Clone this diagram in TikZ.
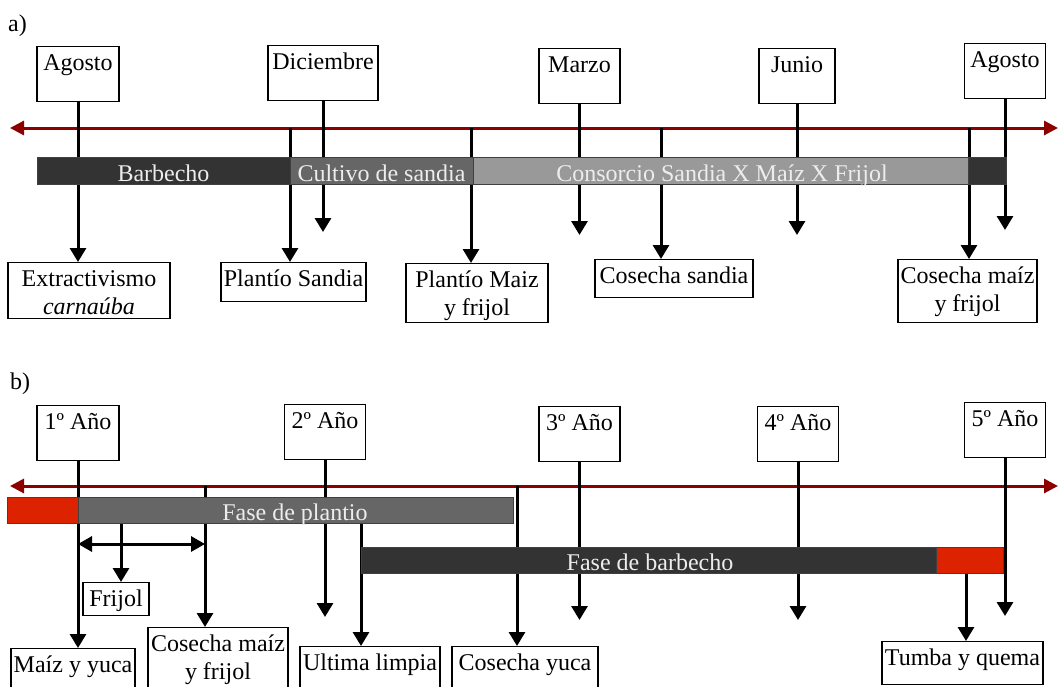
\documentclass[tikz,border=0pt]{standalone}
\usepackage{fontspec}
\setmainfont{Liberation Serif}
\usetikzlibrary{arrows.meta}

\definecolor{rojoeje}{RGB}{140,0,0}
\definecolor{rojobarra}{RGB}{221,34,0}
\definecolor{grisosc}{RGB}{51,51,51}
\definecolor{grismed}{RGB}{102,102,102}
\definecolor{grisclaro}{RGB}{153,153,153}

\tikzset{
  letra/.style={font=\fontsize{24}{28}\selectfont},
  caja/.style={letra, draw, line width=1.2pt, fill=white, inner xsep=2pt,
    inner ysep=4pt, text height=20pt, anchor=north, align=center},
  caja2/.style={caja, text height=48pt},
  eje/.style={draw=rojoeje, line width=3pt,
    {Triangle[width=14pt,length=14pt]}-{Triangle[width=14pt,length=14pt]}},
  flecha/.style={line width=3pt, -{Triangle[width=16pt,length=14pt]}},
  doble/.style={line width=3pt,
    {Triangle[width=15pt,length=14pt]}-{Triangle[width=15pt,length=14pt]}},
  barra/.style={draw=black!75, line width=1pt},
  textobarra/.style={letra, text=white!93!black, anchor=base, inner sep=0pt},
}

\begin{document}
\begin{tikzpicture}[x=1pt,y=-1pt]
  \useasboundingbox (0,0) rectangle (1061,686);
  \clip (0,0) rectangle (1061,686);

  % ---- a) ----
  \node[letra, anchor=base west, inner sep=0pt] (etqa) at (8,31) {a)};

  \node[caja, minimum width=82pt, text depth=27pt] (ago1) at (78,46) {Agosto};
  \node[caja, minimum width=110pt, text depth=27pt] (dic) at (323,45) {Diciembre};
  \node[caja, minimum width=81pt, text depth=27pt] (mar) at (579.5,48) {Marzo};
  \node[caja, minimum width=76pt, text depth=27pt] (jun) at (797,48) {Junio};
  \node[caja, minimum width=81pt, text depth=27pt] (ago2) at (1005,43) {Agosto};

  \node[caja2, minimum width=162pt, text depth=0pt] (ext) at (89,262) {Extractivismo\\\textit{carnaúba}};
  \node[caja, minimum width=145pt, text depth=11pt] (psan) at (293.5,262) {Plantío Sandia};
  \node[caja2, minimum width=142pt, text depth=3pt] (pmai) at (477,263) {Plantío Maiz\\y frijol};
  \node[caja, minimum width=158pt, text depth=10pt] (csan) at (674,259) {Cosecha sandia};
  \node[caja2, minimum width=139pt, text depth=7pt] (cmai) at (967.5,259) {Cosecha maíz\\y frijol};

  \coordinate (ejea1) at (10,128);
  \coordinate (ejea2) at (1058,128);
  \draw[eje] (ejea1) -- (ejea2);

  \coordinate (ta1) at (290,128);
  \coordinate (ta2) at (471,128);
  \coordinate (ta3) at (661,128);
  \coordinate (ta4) at (969,128);
  \coordinate (fdic) at (323,232);
  \coordinate (fmar) at (579.5,235);
  \coordinate (fjun) at (797,235);
  \coordinate (fago) at (1005,230);

  \draw[flecha] (ago1.south) -- (ago1.south |- ext.north);
  \draw[flecha] (ta1) -- (ta1 |- psan.north);
  \draw[flecha] (dic.south) -- (fdic);
  \draw[flecha] (ta2) -- (ta2 |- pmai.north);
  \draw[flecha] (mar.south) -- (fmar);
  \draw[flecha] (ta3) -- (ta3 |- csan.north);
  \draw[flecha] (jun.south) -- (fjun);
  \draw[flecha] (ta4) -- (ta4 |- cmai.north);
  \draw[flecha] (ago2.south) -- (fago);

  \draw[barra, fill=grisosc] (37,157) rectangle (290,184);
  \draw[barra, fill=grismed] (290,157) rectangle (473,184);
  \draw[barra, fill=grisclaro] (473,157) rectangle (968,184);
  \draw[barra, fill=grisosc] (968,157) rectangle (1006,184);
  \node[textobarra] (tbarb) at (163.5,181) {Barbecho};
  \node[textobarra] (tcult) at (381.5,181) {Cultivo de sandia};
  \node[textobarra] (tcons) at (722,181) {Consorcio Sandia X Maíz X Frijol};

  % ---- b) ----
  \node[letra, anchor=base west, inner sep=0pt] (etqb) at (10,389) {b)};

  \node[caja, minimum width=82pt, text depth=27pt] (a1) at (78,405) {1º Año};
  \node[caja, minimum width=81pt, text depth=27pt] (a2) at (325,404) {2º Año};
  \node[caja, minimum width=81pt, text depth=27pt] (a3) at (579.5,406) {3º Año};
  \node[caja, minimum width=81pt, text depth=27pt] (a4) at (798,406) {4º Año};
  \node[caja, minimum width=81pt, text depth=27pt] (a5) at (1005,402) {5º Año};

  \node[caja, minimum width=66pt, text depth=5pt] (fri) at (116,582) {Frijol};
  \node[caja, minimum width=124pt, text depth=60pt] (myy) at (73,648) {Maíz y yuca};
  \node[caja2, minimum width=140pt, text depth=40pt] (cmf) at (218,627) {Cosecha maíz\\y frijol};
  \node[caja, minimum width=140pt, text depth=60pt] (ult) at (370,646) {Ultima limpia};
  \node[caja, minimum width=146pt, text depth=60pt] (cyu) at (525,646) {Cosecha yuca};
  \node[caja, minimum width=161pt, text depth=15pt] (tyq) at (962.5,641) {Tumba y quema};

  \coordinate (ejeb1) at (10,486);
  \coordinate (ejeb2) at (1058,486);
  \draw[eje] (ejeb1) -- (ejeb2);

  \coordinate (tb1) at (205,486);
  \coordinate (tb2) at (361,523);
  \coordinate (tb3) at (517,486);
  \coordinate (tb4) at (966,573);
  \coordinate (fr0) at (121,523);
  \coordinate (d1) at (78,544);
  \coordinate (d2) at (205,544);
  \coordinate (fa2) at (325,617);
  \coordinate (fa3) at (579.5,620);
  \coordinate (fa4) at (798,620);
  \coordinate (fa5) at (1005,616);

  \draw[flecha] (a1.south) -- (a1.south |- myy.north);
  \draw[flecha] (tb1) -- (tb1 |- cmf.north);
  \draw[flecha] (fr0) -- (fr0 |- fri.north);
  \draw[doble] (d1) -- (d2);
  \draw[flecha] (a2.south) -- (fa2);
  \draw[flecha] (tb2) -- (tb2 |- ult.north);
  \draw[flecha] (tb3) -- (tb3 |- cyu.north);
  \draw[flecha] (a3.south) -- (fa3);
  \draw[flecha] (a4.south) -- (fa4);
  \draw[flecha] (a5.south) -- (fa5);
  \draw[flecha] (tb4) -- (tb4 |- tyq.north);

  \draw[barra, fill=rojobarra] (7,497) rectangle (78,523);
  \draw[barra, fill=grismed] (78,497) rectangle (513,523);
  \draw[barra, fill=grisosc] (361,547) rectangle (936,573);
  \draw[barra, fill=rojobarra] (936,547) rectangle (1003,573);
  \node[textobarra] (tplan) at (295,520) {Fase de plantio};
  \node[textobarra] (tbarbb) at (650,570) {Fase de barbecho};
\end{tikzpicture}
\end{document}
